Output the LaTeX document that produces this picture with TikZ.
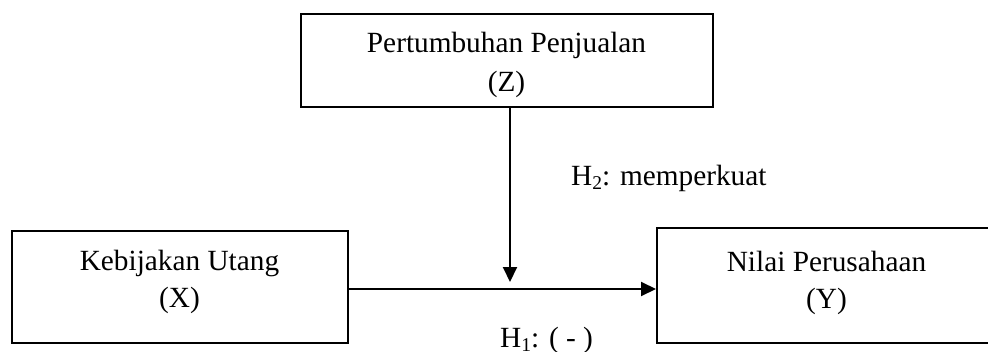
\documentclass[tikz,border=0pt]{standalone}
\usepackage{fontspec}
\setmainfont{Liberation Serif}
\usetikzlibrary{arrows.meta}
\newcommand{\mysub}[1]{\raisebox{-0.14em}{\fontsize{19.5}{20}\selectfont #1}}
\begin{document}
\begin{tikzpicture}[x=1pt,y=-1pt,
  box/.style={draw=black, line width=2pt, rectangle, inner sep=0pt},
  txt/.style={font=\fontsize{29.3}{35}\selectfont, inner sep=0pt, anchor=base},
  conn/.style={draw=black, line width=2pt, -{Triangle[length=15pt,width=14pt]}}]
\useasboundingbox (0,0) rectangle (988,351);
% boxes
\node[box, minimum width=412pt, minimum height=93pt] (Z) at (507,60.5) {};
\node[box, minimum width=336pt, minimum height=112pt] (X) at (180,287) {};
\node[box, minimum width=339pt, minimum height=115pt] (Y) at (826.5,285.5) {};
% box texts
\node[txt] (zt1) at (506.5,52.7) {Pertumbuhan Penjualan};
\node[txt] (zt2) at (506.5,91) {(Z)};
\node[txt] (xt1) at (179.5,270.7) {Kebijakan Utang};
\node[txt] (xt2) at (179.5,307.3) {(X)};
\node[txt] (yt1) at (826.5,271.7) {Nilai Perusahaan};
\node[txt] (yt2) at (826.5,308.3) {(Y)};
% labels
\node[txt, anchor=base west] (h2) at (571,185) {H\mysub{2}: memperkuat};
\node[txt, anchor=base west] (h1) at (500,347) {H\mysub{1}: ( - )};
% connectors
\coordinate (m) at (510,282);
\coordinate (j) at (0,289);
\draw[conn] (Z.south -| m) -- (m);
\draw[conn] (X.east |- j) -- (Y.west |- j);
\end{tikzpicture}
\end{document}
